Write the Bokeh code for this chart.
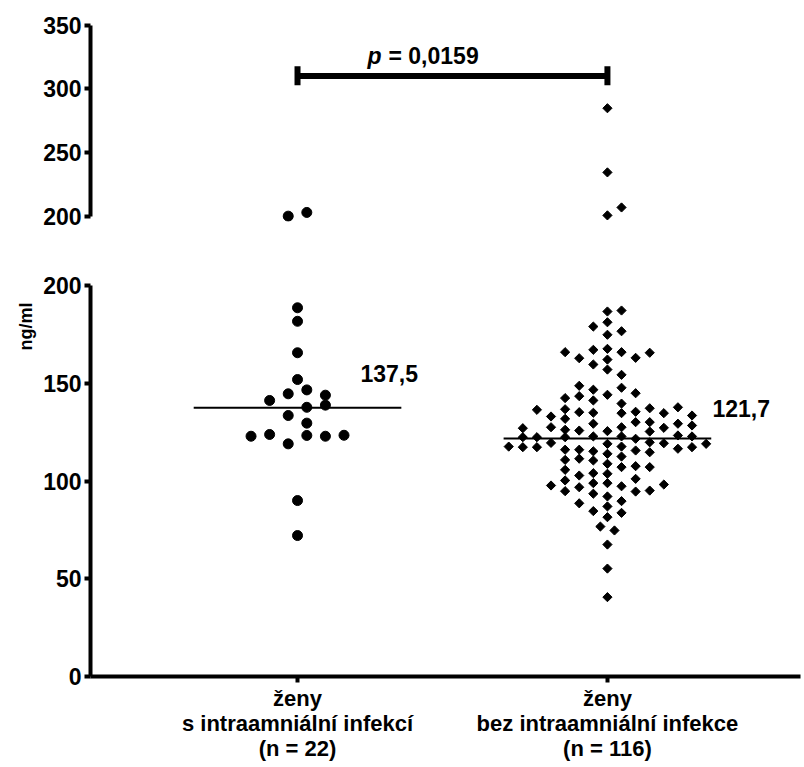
import numpy as np
from bokeh.plotting import figure
from bokeh.layouts import column
from bokeh.models import Range1d, FixedTicker, Title
from bokeh.embed import file_html
from bokeh.resources import INLINE
from bokeh.core.properties import value

# ---------------- data ----------------
categories = [1, 2]
category_labels = ["ženy\ns intraamniální infekcí\n(n = 22)",
                   "ženy\nbez intraamniální infekce\n(n = 116)"]
means = [137.5, 121.7]
mean_labels = ["137,5", "121,7"]
p_value_label = "= 0,0159"
y_label = "ng/ml"

# group 1 (with infection): values in ng/ml and beeswarm column slot
g1_values = [188.6, 181.7, 165.6, 151.9, 144.6, 146.6, 143.9, 141.2, 137.7, 138.8,
             133.5, 129.6, 122.9, 123.8, 123.3, 122.9, 123.4, 119.0, 90.0, 72.1,
             200.2, 203.1]
g1_slots = [0, 0, 0, 0, -0.5, 0.5, 1.5, -1.5, 0.5, 1.5,
            -0.5, 0.5, -2.5, -1.5, 0.5, 1.5, 2.5, -0.5, 0, 0,
            -0.5, 0.5]

# group 2 (without infection)
g2_values = [186.7, 187.2, 179.0, 181.2, 176.6, 174.8,
             165.9, 162.8, 167.1, 167.6, 165.9, 163.0, 165.6,
             162.1, 159.6, 157.0, 154.3,
             148.7, 146.7, 147.7, 144.9, 143.4, 144.1, 142.4, 141.2, 139.6,
             136.4, 136.7, 135.2, 134.9, 134.7, 135.4, 137.2, 134.7, 137.7,
             133.0, 131.8, 133.5,
             129.3, 130.1, 130.1, 129.3, 128.4, 127.0, 127.5, 126.2, 125.8, 125.5, 127.5, 127.2, 125.3,
             122.4, 122.4, 122.4, 122.8, 122.8, 121.6, 123.3, 122.8, 119.8,
             117.6, 117.3, 117.3, 119.5, 119.0, 117.6, 119.3, 116.5, 117.3, 119.0,
             116.0, 116.0, 115.2, 113.9, 112.5, 115.6, 114.7,
             110.8, 111.4, 110.5, 108.8, 107.1, 107.6, 107.1,
             105.7, 104.0, 103.7, 102.8, 101.1,
             100.3, 98.9, 98.9,
             97.7, 96.8, 97.3, 98.2,
             94.8, 93.5, 94.6, 95.1,
             92.1, 89.7, 88.6, 87.0, 84.6, 83.7, 81.5,
             76.7, 74.7, 67.5, 55.2, 40.6,
             284.8, 234.5, 200.8, 207.0]
g2_slots = [0, 1, -1, 0, 1, 0,
            -3, -2, -1, 0, 1, 2, 3,
            0, -1, 0, 1,
            -2, -1, 1, 2, -2, 0, -3, -1, 1,
            -5, -3, -2, -1, 1, 2, 3, 4, 5,
            -4, -3, 6,
            -1, 2, 3, 5, 6, -6, -4, -3, -2, 0, 1, 4, 3,
            -6, -5, -3, -1, 1, 2, 5, 6, 3,
            -7, -6, -5, -4, 0, 1, 4, 5, 6, 7,
            -3, -2, -1, 0, 1, 2, 3,
            -3, -2, -1, 0, 1, 2, 3,
            -3, -1, 0, -2, 2,
            -3, -1, 0,
            -4, -2, 1, 4,
            -3, -1, 2, 3,
            0, 1, -2, 0, -1, 1, 0,
            -0.5, 0.5, 0, 0, 0,
            0, 0, 0, 1]

# ---------------- styling ----------------
FONT = "Liberation Sans"
W = 804
XR = (0.332, 2.623)
SLOT1 = 0.06
SLOT2 = 0.0455
BREAK = 199.0


def split(vals, slots, center, width, upper):
    xs, ys = [], []
    for v, s in zip(vals, slots):
        if (v >= BREAK) == upper:
            xs.append(center + s * width)
            ys.append(v)
    return xs, ys


def style_axis(ax, size="23px"):
    ax.axis_line_width = 4
    ax.axis_line_color = "black"
    ax.major_tick_line_width = 4
    ax.major_tick_line_color = "black"
    ax.major_tick_out = 6
    ax.major_tick_in = 0
    ax.minor_tick_line_color = None
    ax.major_label_text_font = FONT
    ax.major_label_text_font_style = "bold"
    ax.major_label_text_font_size = size
    ax.major_label_text_color = "black"


# ---------------- upper panel (200-350) ----------------
up = figure(width=W, height=250, x_range=Range1d(*XR), y_range=Range1d(196, 352),
            output_backend="svg", toolbar_location=None, x_axis_location=None,
            min_border_left=90, min_border_right=4, min_border_top=22, min_border_bottom=29)
up.outline_line_color = None
up.grid.grid_line_color = None
style_axis(up.yaxis[0])
up.yaxis[0].ticker = FixedTicker(ticks=[200, 250, 300, 350])
up.yaxis[0].bounds = (200, 350)
up.yaxis[0].major_label_standoff = 3

x1u, y1u = split(g1_values, g1_slots, categories[0], SLOT1, True)
x2u, y2u = split(g2_values, g2_slots, categories[1], SLOT2, True)
up.scatter(x1u, y1u, marker="circle", size=10, color="black")
up.scatter(x2u, y2u, marker="square", size=6.5, angle=np.pi / 4, color="black")

# significance bracket
br_y = 310.0
up.segment(x0=[categories[0]], y0=[br_y], x1=[categories[1]], y1=[br_y],
           line_width=6, color="black")
up.segment(x0=categories, y0=[302.9, 302.9], x1=categories, y1=[317.8, 317.8],
           line_width=6, color="black")
up.text(x=[1.271], y=[325.7], text=["p"], text_font=value(FONT),
        text_font_style="bold italic", text_font_size="23px", text_align="right",
        text_baseline="alphabetic", color="black")
up.text(x=[1.271], y=[325.7], text=[p_value_label], x_offset=7, text_font=value(FONT),
        text_font_style="bold", text_font_size="23px", text_align="left",
        text_baseline="alphabetic", color="black")

# ---------------- lower panel (0-200) ----------------
lo = figure(width=W, height=517, x_range=Range1d(*XR), y_range=Range1d(0, 200),
            output_backend="svg", toolbar_location=None,
            min_border_left=90, min_border_right=4, min_border_top=35, min_border_bottom=91)
lo.outline_line_color = None
lo.grid.grid_line_color = None
style_axis(lo.yaxis[0])
lo.yaxis[0].ticker = FixedTicker(ticks=[0, 50, 100, 150, 200])
lo.yaxis[0].major_label_standoff = 3
style_axis(lo.xaxis[0], "22px")
lo.xaxis[0].ticker = FixedTicker(ticks=categories)
lo.xaxis[0].major_label_overrides = {c: l for c, l in zip(categories, category_labels)}
lo.xaxis[0].major_label_text_line_height = 1.0
lo.xaxis[0].major_label_standoff = 3
lo.xaxis[0].major_tick_out = 6

# unit label, placed near the top of the lower axis
unit_title = Title(text=y_label, align="right", offset=17, standoff=10,
                   text_font=FONT, text_font_style="bold", text_font_size="18px",
                   text_color="black")
lo.add_layout(unit_title, "left")

x1l, y1l = split(g1_values, g1_slots, categories[0], SLOT1, False)
x2l, y2l = split(g2_values, g2_slots, categories[1], SLOT2, False)
lo.scatter(x1l, y1l, marker="circle", size=10, color="black")
lo.scatter(x2l, y2l, marker="square", size=6.5, angle=np.pi / 4, color="black")

# mean lines and labels
lo.segment(x0=[c - 0.335 for c in categories], y0=means,
           x1=[c + 0.335 for c in categories], y1=means, line_width=2, color="black")
lo.text(x=[1.203, 2.339], y=means, text=mean_labels, y_offset=[-34, -30],
        text_font=value(FONT), text_font_style="bold", text_font_size="23px",
        text_align="left", text_baseline="middle", color="black")

layout = column(up, lo, spacing=0)
open("out.html", "w").write(file_html(layout, INLINE))
